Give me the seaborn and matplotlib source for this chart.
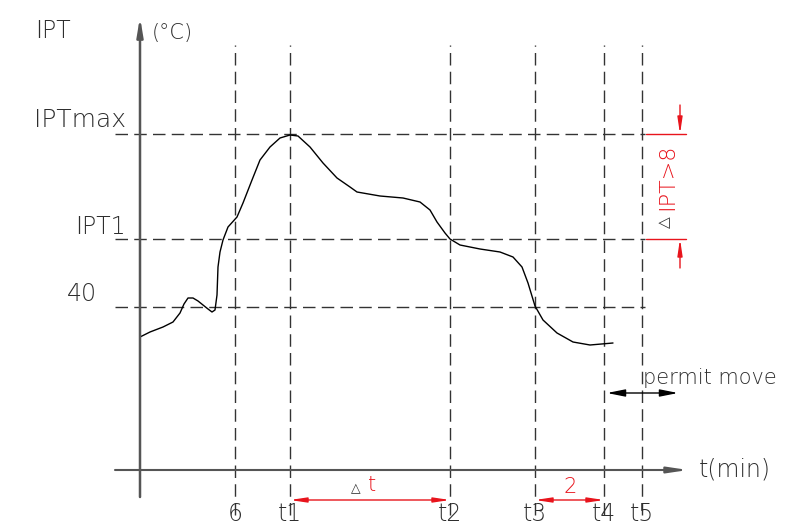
import matplotlib
matplotlib.use("Agg")
import matplotlib.pyplot as plt
import seaborn as sns
import pandas as pd

sns.set_theme(style="white")
plt.rcParams["font.family"] = ["DejaVu Sans"]
plt.rcParams["font.weight"] = "light"

# curve (x = time units, y = temperature units)
curve_t = [140, 150, 163, 173, 180, 184, 188, 193, 198, 203, 208, 212, 215,
           217, 218, 220, 223, 228, 237, 243, 252, 260, 270, 280, 290, 298,
           310, 323, 337, 350, 357, 380, 403, 420, 430, 437, 445, 450, 460,
           480, 500, 513, 522, 528, 535, 543, 557, 573, 590, 613]
curve_ipt = [188, 193, 198, 203, 212, 221, 227, 227, 224, 220, 216, 213, 215,
             230, 258, 273, 285, 298, 308, 322, 345, 365, 378, 387, 390, 389,
             378, 362, 347, 338, 333, 329, 327, 323, 315, 303, 292, 286, 280,
             276, 273, 268, 258, 242, 219, 205, 192, 183, 180, 182]

level_names = ["IPTmax", "IPT1", "40"]
level_values = [391, 286, 218]

time_names = ["6", "t1", "t2", "t3", "t4", "t5"]
time_values = [235, 290, 450, 535, 604, 642]

df = pd.DataFrame({"t": curve_t, "ipt": curve_ipt})

fig = plt.figure(figsize=(8.03, 5.25), dpi=100)
ax = fig.add_axes([0, 0, 1, 1])
ax.set_xlim(0, 803)
ax.set_ylim(0, 525)
ax.axis("off")

txt = "#2e2e2e"
red = "#e8141c"
dash = (0, (9, 4.5))
tri = dict(family=["DejaVu Sans"], fontweight="normal")

# reference grid of dashed lines
for v in level_values:
    ax.plot([115, 645], [v, v], color="#333333", lw=1, ls=dash)
for v in time_values:
    ax.plot([v, v], [10, 480], color="#333333", lw=1, ls=dash)

# axes with arrows
ax.annotate("", xy=(140, 508), xytext=(140, 28),
            arrowprops=dict(arrowstyle="-|>,head_length=0.9,head_width=0.15",
                            color="#555555", lw=1.8, shrinkA=0, shrinkB=0))
ax.annotate("", xy=(688, 55), xytext=(115, 55),
            arrowprops=dict(arrowstyle="-|>,head_length=1.0,head_width=0.15",
                            color="#555555", lw=1.5, shrinkA=0, shrinkB=0))

sns.lineplot(data=df, x="t", y="ipt", sort=False, color="black", lw=1, ax=ax)

# axis texts
ax.text(35, 494, "IPT", fontsize=17, color=txt, va="center", ha="left")
ax.text(152, 492, "(°C)", fontsize=15, color=txt, va="center", ha="left")
ax.text(735, 55, "t(min)", fontsize=17, color=txt, va="center", ha="center")
ax.text(126, 405, "IPTmax", fontsize=18, color=txt, va="center", ha="right")
ax.text(126, 298, "IPT1", fontsize=17, color=txt, va="center", ha="right")
ax.text(97, 231, "40", fontsize=17, color=txt, va="center", ha="right")
for name, v in zip(time_names, time_values):
    ax.text(v, 4, name, fontsize=17, color=txt, va="baseline", ha="center")

# delta t dimension
ax.annotate("", xy=(290, 25), xytext=(450, 25),
            arrowprops=dict(arrowstyle="<|-|>,head_length=0.8,head_width=0.12",
                            color=red, lw=1, shrinkA=0, shrinkB=0))
ax.text(356, 36, "△", fontsize=9, color=txt, ha="center", va="center", **tri)
ax.text(372, 40, "t", fontsize=15, color=red, ha="center", va="center")

ax.annotate("", xy=(535, 25), xytext=(604, 25),
            arrowprops=dict(arrowstyle="<|-|>,head_length=0.8,head_width=0.12",
                            color=red, lw=1, shrinkA=0, shrinkB=0))
ax.text(570, 38, "2", fontsize=15, color=red, ha="center", va="center")

# delta IPT dimension
for v in level_values[:2]:
    ax.plot([646, 686], [v, v], color=red, lw=1)
ax.annotate("", xy=(680, level_values[0]), xytext=(680, 420),
            arrowprops=dict(arrowstyle="-|>,head_length=0.8,head_width=0.12",
                            color=red, lw=1, shrinkA=0, shrinkB=0))
ax.annotate("", xy=(680, level_values[1]), xytext=(680, 257),
            arrowprops=dict(arrowstyle="-|>,head_length=0.8,head_width=0.12",
                            color=red, lw=1, shrinkA=0, shrinkB=0))
ax.text(667, 348, "IPT>8", fontsize=16, color=red, rotation=90,
        ha="center", va="center")
ax.text(665, 303, "△", fontsize=11, color=txt, rotation=90,
        ha="center", va="center", **tri)

# permit move
ax.text(643, 147, "permit move", fontsize=15, color=txt, ha="left", va="center")
ax.annotate("", xy=(607, 132), xytext=(678, 132),
            arrowprops=dict(arrowstyle="<|-|>,head_length=0.9,head_width=0.18",
                            color="black", lw=1, shrinkA=0, shrinkB=0))

fig.savefig("out.png", dpi=100)
